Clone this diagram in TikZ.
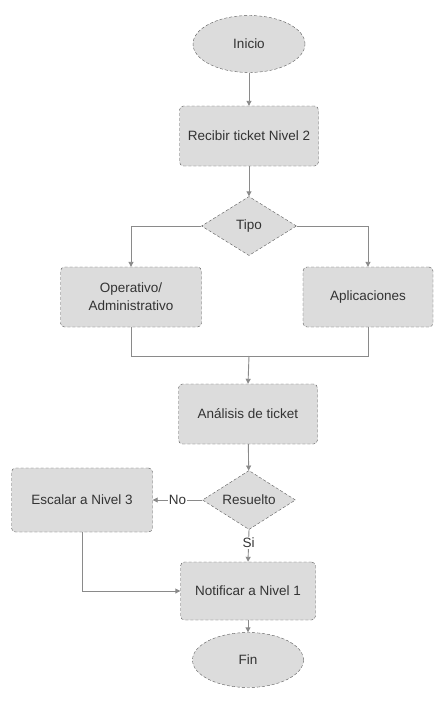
\documentclass[tikz,border=0pt]{standalone}
\usepackage{fontspec}
\setmainfont{Liberation Sans}
\usetikzlibrary{shapes.geometric,arrows.meta}
\definecolor{boxfill}{HTML}{DCDCDC}
\definecolor{boxline}{HTML}{5A5A5A}
\definecolor{wire}{HTML}{8A8A8A}
\begin{document}
\begin{tikzpicture}[x=1pt,y=-1pt,
  every node/.style={font=\fontsize{13.5}{18}\selectfont, text=black!80},
  term/.style={draw=boxline, densely dashed, fill=boxfill, ellipse, minimum width=112pt, minimum height=57pt, inner sep=0pt},
  proc/.style={draw=boxline, densely dashed, fill=boxfill, rounded corners=4pt, minimum width=139pt, minimum height=60pt, align=center, inner sep=1pt},
  deci/.style={draw=boxline, densely dashed, fill=boxfill, diamond, aspect=1.6, minimum width=95pt, minimum height=59pt, inner sep=0pt},
  wire/.style={draw=wire, line width=0.9pt, solid},
  arr/.style={wire, -{Triangle[length=5pt,width=5pt]}}]
\useasboundingbox (0,0) rectangle (435,702);
\node[term] (inicio) at (249,44) {Inicio};
\node[proc] (recibir) at (249,136) {Recibir ticket Nivel 2};
\node[deci] (tipo) at (249,226) {Tipo};
\node[proc, minimum width=141pt] (oper) at (131,297) {Operativo/\\Administrativo};
\node[proc, minimum width=130pt] (apl) at (368,297) {Aplicaciones};
\coordinate (junta) at (249,356);
\node[proc] (anal) at (248,414) {Análisis de ticket};
\node[deci, minimum width=93pt] (res) at (249,500) {Resuelto};
\node[proc, minimum width=141pt, minimum height=64pt] (esc) at (82,500) {Escalar a Nivel 3};
\node[proc, minimum width=135pt, minimum height=58pt] (notif) at (248,591) {Notificar a Nivel 1};
\node[term, minimum width=111pt, minimum height=55pt] (fin) at (248,660) {Fin};
\path[arr] (inicio) -- (recibir);
\path[arr] (recibir) -- (tipo);
\path[arr] (tipo.west) -| (oper.north);
\path[arr] (tipo.east) -| (apl.north);
\path[wire] (oper.south) |- (junta);
\path[wire] (apl.south) |- (junta);
\path[arr] (junta) -- (anal.north);
\path[arr] (anal) -- (res);
\path[arr] (res.west) -- node[fill=white, inner sep=1pt] {No} (esc.east);
\path[arr] (res.south) -- node[pos=0.4, fill=white, inner sep=1pt] {Si} (notif.north);
\path[arr] (esc.south) |- (notif.west);
\path[arr] (notif) -- (fin);
\end{tikzpicture}
\end{document}
